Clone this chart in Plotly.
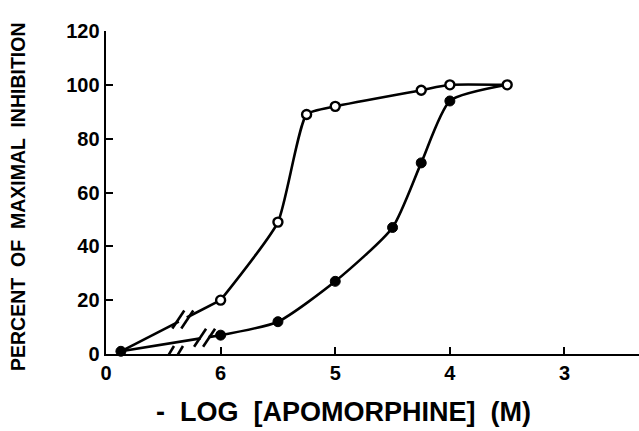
import plotly.graph_objects as go

# ---- data ----
log_conc = [6, 5.5, 5.25, 5, 4.25, 4, 3.5]          # -log[apomorphine] (M)
open_vals = [20, 49, 89, 92, 98, 100, 100]           # open circles
filled_log = [6, 5.5, 5, 4.5, 4.25, 4, 3.5]
filled_vals = [7, 12, 27, 47, 71, 94, 100]           # filled circles
control_open = 1
control_filled = 1
x_tick_labels = ["0", "6", "5", "4", "3"]
y_ticks = [0, 20, 40, 60, 80, 100, 120]

CONTROL_POS = 0.13      # where the "0" (control) points sit on the axis
W, H = 639, 431
L_M, R_M, T_M, B_M = 106, 0, 31, 77
XR = [0, 4.65]
YR = [0, 120]

def pos(v):
    return 7 - v

px_x = (W - L_M - R_M) / (XR[1] - XR[0])
px_y = (H - T_M - B_M) / (YR[1] - YR[0])

fig = go.Figure()
BLACK = "#000000"
LW = 2.6

# straight broken segments from control to 10^-6 M
def broken_segment(y0, y1, tb):
    x0, x1 = CONTROL_POS, pos(6)
    gap = 4 / px_x
    xb = x0 + tb * (x1 - x0)
    def yat(x):
        return y0 + (y1 - y0) * (x - x0) / (x1 - x0)
    xs = [x0, xb - gap, None, xb + gap, x1]
    ys = [y0, yat(xb - gap), None, yat(xb + gap), y1]
    fig.add_trace(go.Scatter(x=xs, y=ys, mode="lines",
                             line=dict(color=BLACK, width=LW),
                             showlegend=False, hoverinfo="skip"))
    return xb, yat(xb)

breaks = []
breaks.append(broken_segment(control_open, open_vals[0], (0.67 - CONTROL_POS) / (1 - CONTROL_POS)))
breaks.append(broken_segment(control_filled, filled_vals[0], (0.86 - CONTROL_POS) / (1 - CONTROL_POS)))
axis_break = (0.58, 0)

# smooth curves
fig.add_trace(go.Scatter(x=[pos(v) for v in filled_log], y=filled_vals, mode="lines",
                         line=dict(color=BLACK, width=LW, shape="spline", smoothing=0.6),
                         showlegend=False, hoverinfo="skip"))
fig.add_trace(go.Scatter(x=[pos(v) for v in log_conc], y=open_vals, mode="lines",
                         line=dict(color=BLACK, width=LW, shape="spline", smoothing=0.5),
                         showlegend=False, hoverinfo="skip"))

# markers
fig.add_trace(go.Scatter(x=[CONTROL_POS] + [pos(v) for v in filled_log[:-1]],
                         y=[control_filled] + filled_vals[:-1], mode="markers",
                         marker=dict(color=BLACK, size=10, line=dict(color=BLACK, width=1)),
                         showlegend=False, cliponaxis=False, hoverinfo="skip"))
fig.add_trace(go.Scatter(x=[pos(v) for v in log_conc], y=open_vals, mode="markers",
                         marker=dict(color="white", size=9, line=dict(color=BLACK, width=2.4)),
                         showlegend=False, cliponaxis=False, hoverinfo="skip"))

# break marks "//"
shapes = []
def slashes(xb, yb, hw, hh, dy=0, sep=4.5):
    for off in (-sep, sep):
        xc = xb + off / px_x
        shapes.append(dict(type="line", xref="x", yref="y",
                           x0=xc - hw / px_x, y0=yb - (hh - dy) / px_y,
                           x1=xc + hw / px_x, y1=yb + (hh + dy) / px_y,
                           line=dict(color=BLACK, width=LW), layer="above"))

for (xb, yb) in breaks:
    slashes(xb, yb, 6, 9)
# gap in x axis, then slashes reaching below the axis
shapes.append(dict(type="line", xref="x", yref="y",
                   x0=axis_break[0] - 3.5 / px_x, y0=0, x1=axis_break[0] + 3.5 / px_x, y1=0,
                   line=dict(color="white", width=4), layer="above"))
slashes(axis_break[0], axis_break[1], 6, 10, dy=-2)

font_family = "Liberation Sans, Arial, sans-serif"
fig.update_layout(
    width=W, height=H, margin=dict(l=L_M, r=R_M, t=T_M, b=B_M),
    paper_bgcolor="white", plot_bgcolor="white",
    shapes=shapes, showlegend=False, hovermode=False,
    font=dict(family=font_family, color=BLACK),
    xaxis=dict(range=XR, tickvals=[0, 1, 2, 3, 4], ticktext=[f"<b>{t}</b>" for t in x_tick_labels],
               ticks="inside", ticklen=7, tickwidth=2, tickcolor=BLACK,
               showline=True, linecolor=BLACK, linewidth=2.4, showgrid=False, zeroline=False,
               tickfont=dict(size=20, family=font_family), fixedrange=True, automargin=False),
    yaxis=dict(range=YR, tickvals=y_ticks, ticktext=[f"<b>{t}</b>" for t in y_ticks],
               ticks="inside", ticklen=7, tickwidth=2, tickcolor=BLACK,
               showline=True, linecolor=BLACK, linewidth=2.4, showgrid=False, zeroline=False,
               tickfont=dict(size=20, family=font_family), fixedrange=True, automargin=False),
    annotations=[
        dict(text="<b>-  LOG  [APOMORPHINE]  (M)</b>", xref="paper", yref="paper",
             x=(343 - L_M) / (W - L_M - R_M), y=-(412 - (H - B_M)) / (H - T_M - B_M),
             showarrow=False, font=dict(size=27, family=font_family), xanchor="center", yanchor="middle"),
        dict(text="<b>PERCENT  OF  MAXIMAL  INHIBITION</b>", xref="paper", yref="paper",
             x=-(L_M - 18) / (W - L_M - R_M), y=(H - B_M - 197) / (H - T_M - B_M),
             showarrow=False, textangle=-90, font=dict(size=19.5, family=font_family),
             xanchor="center", yanchor="middle"),
    ],
)

fig.write_html("out.html", config={"displayModeBar": False, "staticPlot": True})
with open("out.html", encoding="utf-8") as f:
    html = f.read()
html = html.replace("<body>", '<body style="margin:0;padding:0;overflow:hidden">', 1)
with open("out.html", "w", encoding="utf-8") as f:
    f.write(html)
